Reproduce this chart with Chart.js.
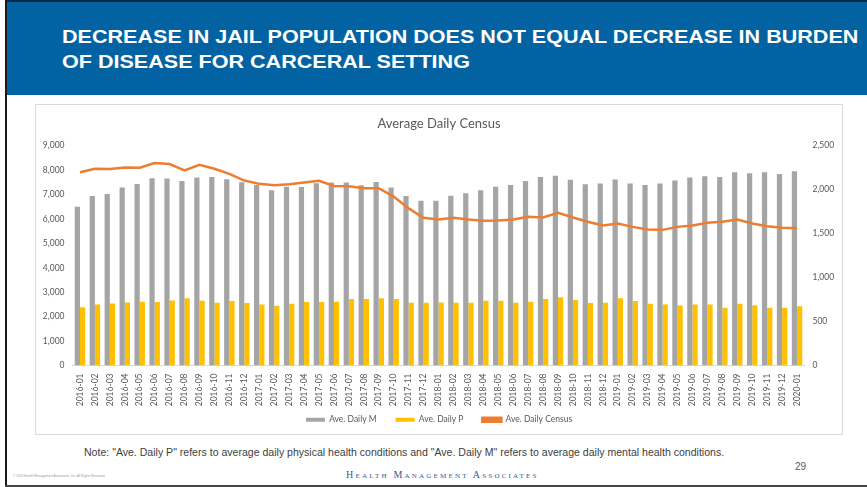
<!DOCTYPE html>
<html>
<head>
<meta charset="utf-8">
<script src="https://cdn.jsdelivr.net/npm/chart.js@4.4.1/dist/chart.umd.min.js"></script>
<style>
  html, body { margin: 0; padding: 0; background: #fff; }
  #slide { position: relative; width: 867px; height: 487px; overflow: hidden; }
  #edgeLeft { position: absolute; left: 5px; top: 0; width: 2px; height: 487px; background: #1a1a1a; }
  #edgeBottom { position: absolute; left: 5px; top: 485px; width: 862px; height: 2px; background: #444; }
  #header { position: absolute; left: 7px; top: 0; width: 860px; height: 95px; background: #0363a2; border-top: 2px solid #0a2a4a; box-sizing: border-box; }
  #title { position: absolute; left: 62px; top: 24px; margin: 0; font: bold 18.5px "Liberation Sans", Arial, sans-serif; color: #fff; line-height: 25px; white-space: nowrap; transform: scaleX(1.165); transform-origin: left top; }
  #chartBox { position: absolute; left: 35px; top: 104px; width: 808px; height: 331px; border: 1px solid #d9d9d9; box-sizing: border-box; }
  #note { position: absolute; left: 84px; top: 446px; font: 10.55px "Liberation Sans", Arial, sans-serif; color: #404040; white-space: nowrap; }
  #page { position: absolute; left: 795px; top: 461px; font: 10px "Liberation Sans", Arial, sans-serif; color: #595959; }
  #copy { position: absolute; left: 13px; top: 474px; font: 3.2px "Liberation Sans", Arial, sans-serif; color: #999; white-space: nowrap; }
  #hma { position: absolute; left: 346px; top: 469px; font: 10px "Liberation Serif", "Times New Roman", serif; color: #1f5fa0; font-variant: small-caps; letter-spacing: 2.2px; white-space: nowrap; }
</style>
</head>
<body>
<div id="slide">
  <div id="header"></div>
  <h1 id="title">DECREASE IN JAIL POPULATION DOES NOT EQUAL DECREASE IN BURDEN<br>OF DISEASE FOR CARCERAL SETTING</h1>
  <div id="edgeLeft"></div>
  <div id="edgeBottom"></div>
  <div id="chartBox"><canvas id="censusChart"></canvas></div>
  <div id="note">Note: "Ave. Daily P" refers to average daily physical health conditions and "Ave. Daily M" refers to average daily mental health conditions.</div>
  <div id="page">29</div>
  <div id="copy">© 2024 Health Management Associates, Inc. All Rights Reserved.</div>
  <div id="hma">Health Management Associates</div>
</div>
<script>
const months = [
  '2016-01','2016-02','2016-03','2016-04','2016-05','2016-06','2016-07','2016-08','2016-09','2016-10','2016-11','2016-12',
  '2017-01','2017-02','2017-03','2017-04','2017-05','2017-06','2017-07','2017-08','2017-09','2017-10','2017-11','2017-12',
  '2018-01','2018-02','2018-03','2018-04','2018-05','2018-06','2018-07','2018-08','2018-09','2018-10','2018-11','2018-12',
  '2019-01','2019-02','2019-03','2019-04','2019-05','2019-06','2019-07','2019-08','2019-09','2019-10','2019-11','2019-12',
  '2020-01'
];

const dailyM = [
  6500, 6940, 7020, 7290, 7430, 7660, 7650, 7550, 7690, 7710, 7620, 7500,
  7390, 7170, 7320, 7310, 7460, 7490, 7490, 7380, 7510, 7290, 6940, 6740,
  6740, 6950, 7050, 7170, 7320, 7390, 7550, 7710, 7770, 7600, 7420, 7450,
  7610, 7450, 7390, 7450, 7570, 7690, 7750, 7710, 7910, 7870, 7910, 7840,
  7950
];

const dailyP = [
  2380, 2500, 2540, 2580, 2610, 2600, 2660, 2750, 2650, 2570, 2640, 2560,
  2500, 2450, 2530, 2600, 2600, 2610, 2720, 2720, 2750, 2720, 2570, 2570,
  2580, 2570, 2570, 2650, 2650, 2570, 2610, 2720, 2790, 2680, 2560, 2570,
  2750, 2640, 2530, 2500, 2460, 2500, 2500, 2360, 2530, 2470, 2360, 2360,
  2420
];

const dailyCensus = [
  2198, 2237, 2233, 2252, 2248, 2302, 2290, 2218, 2282, 2237, 2179, 2103,
  2065, 2050, 2061, 2080, 2099, 2042, 2038, 2015, 2015, 1920, 1786, 1679,
  1660, 1679, 1660, 1645, 1649, 1660, 1691, 1683, 1737, 1683, 1634, 1592,
  1615, 1576, 1546, 1542, 1576, 1592, 1622, 1634, 1660, 1615, 1584, 1565,
  1561
];

const leftTicks = [0, 1000, 2000, 3000, 4000, 5000, 6000, 7000, 8000, 9000];
const rightTicks = [0, 500, 1000, 1500, 2000, 2500];

const axisFont = { family: 'Lato, "Open Sans", sans-serif', size: 8.5 };
const txt = '#595959';

// wider gaps between legend entries without growing the legend vertically
function legendLabels(chart) {
  const items = Chart.defaults.plugins.legend.labels.generateLabels(chart);
  items.forEach(it => { if (it.datasetIndex < 2) it.text += '\u2003\u2003 '; });
  return items;
}

const ctx = document.getElementById('censusChart').getContext('2d');
new Chart(ctx, {
  type: 'bar',
  data: {
    labels: months,
    datasets: [
      { label: 'Ave. Daily M', data: dailyM, backgroundColor: '#a5a5a5', yAxisID: 'y', order: 2,
        categoryPercentage: 0.7, barPercentage: 1.0 },
      { label: 'Ave. Daily P', data: dailyP, backgroundColor: '#ffc000', yAxisID: 'y', order: 2,
        categoryPercentage: 0.7, barPercentage: 1.0 },
      { label: 'Ave. Daily Census', data: dailyCensus, type: 'line', yAxisID: 'y1', order: 1,
        borderColor: '#ed7d31', backgroundColor: '#ed7d31', borderWidth: 2.5, pointRadius: 0, tension: 0 }
    ]
  },
  options: {
    responsive: true,
    maintainAspectRatio: false,
    animation: false,
    layout: { padding: { left: 0, right: 0, top: 0, bottom: 0 } },
    plugins: {
      title: { display: true, text: 'Average Daily Census', color: txt,
               font: { family: 'Lato, "Open Sans", sans-serif', size: 13, weight: 'normal' }, padding: { top: 11, bottom: 14 } },
      legend: { position: 'bottom', maxHeight: 24,
                labels: { color: txt, font: axisFont, boxWidth: 19, boxHeight: 4, padding: 4,
                          generateLabels: legendLabels,
                          sort: (a, b) => a.datasetIndex - b.datasetIndex } },
      tooltip: { enabled: false }
    },
    scales: {
      x: {
        grid: { display: false, drawTicks: false },
        border: { color: '#d9d9d9' },
        ticks: { color: txt, font: axisFont, maxRotation: 90, minRotation: 90, autoSkip: false, padding: 8 },
        afterFit: axis => { axis.height = 46; }
      },
      y: {
        position: 'left', min: 0, max: 9000,
        afterBuildTicks: axis => { axis.ticks = leftTicks.map(v => ({ value: v })); },
        grid: { display: false, drawTicks: false },
        border: { display: false },
        ticks: { color: txt, font: axisFont, padding: 8, callback: v => v.toLocaleString('en-US') },
        afterFit: axis => { axis.width = 36.5; }
      },
      y1: {
        position: 'right', min: 0, max: 2500,
        afterBuildTicks: axis => { axis.ticks = rightTicks.map(v => ({ value: v })); },
        grid: { display: false, drawTicks: false },
        border: { display: false },
        ticks: { color: txt, font: axisFont, padding: 8, callback: v => v.toLocaleString('en-US') },
        afterFit: axis => { axis.width = 37.5; }
      }
    }
  }
});
</script>
</body>
</html>
